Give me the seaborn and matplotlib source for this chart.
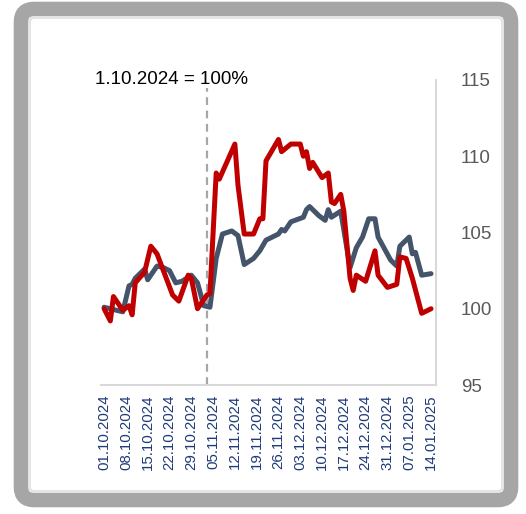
import pandas as pd
import numpy as np
import matplotlib
matplotlib.use("Agg")
import matplotlib.pyplot as plt
import matplotlib.dates as mdates
from matplotlib.patches import FancyBboxPatch
import seaborn as sns

sns.set_theme(style="white")
plt.rcParams["font.family"] = ["Liberation Sans", "DejaVu Sans"]

# === DATA (index, 1.10.2024 = 100) ===
blue_dates = [
    "2024-10-01", "2024-10-07", "2024-10-09", "2024-10-10", "2024-10-11",
    "2024-10-14", "2024-10-15", "2024-10-18", "2024-10-20", "2024-10-22",
    "2024-10-24", "2024-10-26", "2024-10-29", "2024-10-31", "2024-11-02",
    "2024-11-04", "2024-11-06", "2024-11-08", "2024-11-11", "2024-11-13",
    "2024-11-15", "2024-11-18", "2024-11-20", "2024-11-22", "2024-11-26",
    "2024-11-27", "2024-11-28", "2024-11-30", "2024-12-04", "2024-12-05",
    "2024-12-06", "2024-12-09", "2024-12-11", "2024-12-12", "2024-12-13",
    "2024-12-16", "2024-12-19", "2024-12-21", "2024-12-23", "2024-12-25",
    "2024-12-27", "2024-12-28", "2025-01-01", "2025-01-03", "2025-01-04",
    "2025-01-07", "2025-01-08", "2025-01-09", "2025-01-11", "2025-01-14",
]
blue_values = [
    100.1, 99.8, 101.5, 101.6, 102.0,
    102.6, 101.9, 102.8, 102.7, 102.5,
    101.7, 101.8, 102.2, 101.7, 100.2,
    100.1, 103.3, 104.9, 105.1, 104.8,
    102.9, 103.3, 103.8, 104.5, 104.9,
    105.2, 105.1, 105.7, 106.0, 106.5,
    106.7, 106.1, 105.8, 106.5, 106.0,
    106.4, 102.7, 104.0, 104.7, 105.9,
    105.9, 104.7, 103.2, 102.8, 104.1,
    104.7, 103.6, 103.7, 102.2, 102.3,
]

red_dates = [
    "2024-10-01", "2024-10-03", "2024-10-04", "2024-10-07", "2024-10-09",
    "2024-10-10", "2024-10-11", "2024-10-14", "2024-10-16", "2024-10-18",
    "2024-10-23", "2024-10-25", "2024-10-28", "2024-10-29", "2024-10-31",
    "2024-11-03", "2024-11-04", "2024-11-06", "2024-11-07", "2024-11-12",
    "2024-11-13", "2024-11-15", "2024-11-18", "2024-11-20", "2024-11-21",
    "2024-11-22", "2024-11-26", "2024-11-27", "2024-11-30", "2024-12-03",
    "2024-12-04", "2024-12-05", "2024-12-06", "2024-12-07", "2024-12-10",
    "2024-12-12", "2024-12-13", "2024-12-14", "2024-12-16", "2024-12-17",
    "2024-12-19", "2024-12-20", "2024-12-21", "2024-12-24", "2024-12-27",
    "2024-12-28", "2024-12-31", "2025-01-03", "2025-01-04", "2025-01-06",
    "2025-01-08", "2025-01-11", "2025-01-14",
]
red_values = [
    100.0, 99.2, 100.8, 99.9, 100.2,
    99.6, 101.7, 102.4, 104.1, 103.6,
    100.9, 100.5, 102.2, 102.0, 100.0,
    100.9, 101.0, 108.9, 108.5, 110.8,
    108.1, 104.9, 104.9, 105.9, 105.9,
    109.7, 111.1, 110.3, 110.8, 110.8,
    110.0, 110.3, 109.2, 109.6, 108.6,
    108.9, 107.0, 106.9, 107.5, 106.4,
    102.0, 101.2, 102.2, 101.8, 103.8,
    102.2, 101.4, 101.6, 103.4, 103.3,
    102.0, 99.7, 100.0,
]

event_date = "2024-11-03"
note_text = "1.10.2024 = 100%"

df = pd.concat([
    pd.DataFrame({"date": pd.to_datetime(blue_dates), "value": blue_values, "series": "blue"}),
    pd.DataFrame({"date": pd.to_datetime(red_dates), "value": red_values, "series": "red"}),
])

# === FIGURE ===
fig = plt.figure(figsize=(5.26, 5.14), dpi=100)

# grey rounded frame (behind the axes)
W, H = 526, 514
frame = FancyBboxPatch((21 / W, 14 / H), 490 / W, 491 / H,
                       boxstyle="round,pad=0,rounding_size=0.025",
                       transform=fig.transFigure, facecolor="white",
                       edgecolor="#a6a6a6", linewidth=10.5, zorder=-10)
fig.patches.append(frame)
inner = FancyBboxPatch((29.5 / W, 22.5 / H), 473 / W, 474 / H,
                       boxstyle="round,pad=0,rounding_size=0.01",
                       transform=fig.transFigure, facecolor="none",
                       edgecolor="#e4e4e4", linewidth=2, zorder=-9)
fig.patches.append(inner)

ax = fig.add_axes([101 / W, 1 - 385 / H, 335 / W, 305 / H])
ax.patch.set_alpha(0)

sns.lineplot(data=df, x="date", y="value", hue="series",
             palette={"blue": "#44546a", "red": "#c00000"},
             linewidth=3.6, legend=False, ax=ax, estimator=None, sort=False)

ax.vlines(pd.Timestamp(event_date), 95, 114.5, colors="#a6a6a6",
          linestyles=(0, (3.5, 2.5)), linewidth=1.6, zorder=1)

ax.set_ylim(95, 115)
ax.set_xlim(pd.Timestamp("2024-10-01") - pd.Timedelta(days=1.0),
            pd.Timestamp("2024-10-01") + pd.Timedelta(days=106.6))
ax.set_yticks([95, 100, 105, 110, 115])
ax.yaxis.tick_right()
ax.tick_params(axis="y", length=0, pad=18, labelsize=13.5, labelcolor="#595959")

xt = pd.date_range("2024-10-01", "2025-01-14", freq="7D")
ax.set_xticks(xt)
ax.xaxis.set_major_formatter(mdates.DateFormatter("%d.%m.%Y"))
ax.tick_params(axis="x", length=0, pad=7, labelsize=10.8, labelcolor="#1f3a7a",
               labelrotation=90)
ax.set_xlabel("")
ax.set_ylabel("")

for side in ["top", "left"]:
    ax.spines[side].set_visible(False)
for side in ["bottom", "right"]:
    ax.spines[side].set_color("#d9d9d9")
    ax.spines[side].set_linewidth(1.5)

fig.text(95 / W, 1 - 80 / H, note_text, fontsize=13.5, color="black",
         ha="left", va="center")

fig.savefig("out.png", dpi=100)
